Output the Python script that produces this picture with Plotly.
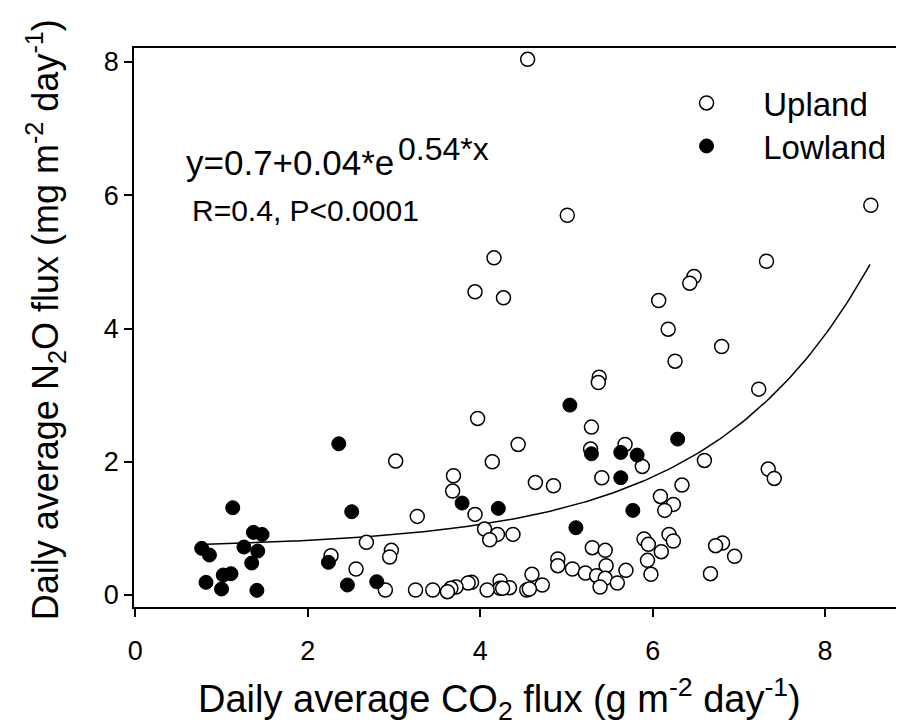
import numpy as np
import plotly.graph_objects as go

# ---- data ----
upland_x = [4.55, 8.53, 5.01, 4.16, 7.32, 6.48, 6.43, 3.94, 4.27, 6.07,
            6.18, 6.80, 6.26, 5.38, 5.37, 7.23, 3.97, 5.29, 4.44, 5.68,
            5.28, 3.02, 4.14, 6.60, 5.88, 7.34, 3.69, 5.41, 7.41, 4.64,
            4.85, 6.34, 3.68, 6.09, 6.24, 6.14, 3.94, 3.27, 4.05, 4.20,
            4.38, 4.11, 5.90, 6.19, 6.24, 5.95, 6.81, 6.73, 2.68, 5.30,
            5.45, 2.97, 6.10, 2.27, 2.95, 6.95, 4.90, 5.94, 4.90, 5.46,
            2.56, 5.07, 5.69, 5.22, 6.67, 5.98, 4.60, 5.35, 5.45, 4.23,
            3.90, 3.86, 5.59, 4.72, 3.72, 5.39, 4.34, 4.23, 4.26, 3.66,
            2.90, 3.25, 3.45, 4.08, 4.54, 4.57, 3.62]
upland_y = [8.04, 5.85, 5.70, 5.06, 5.01, 4.78, 4.68, 4.55, 4.46, 4.42,
            3.99, 3.73, 3.51, 3.27, 3.19, 3.09, 2.65, 2.52, 2.26, 2.26,
            2.19, 2.01, 2.00, 2.02, 1.93, 1.89, 1.79, 1.76, 1.75, 1.69,
            1.64, 1.65, 1.56, 1.48, 1.36, 1.27, 1.21, 1.18, 0.99, 0.91,
            0.91, 0.83, 0.84, 0.91, 0.81, 0.76, 0.78, 0.74, 0.79, 0.71,
            0.67, 0.67, 0.65, 0.59, 0.57, 0.58, 0.54, 0.52, 0.44, 0.44,
            0.39, 0.39, 0.37, 0.33, 0.32, 0.31, 0.31, 0.29, 0.25, 0.21,
            0.19, 0.18, 0.18, 0.15, 0.12, 0.12, 0.11, 0.10, 0.10, 0.10,
            0.075, 0.075, 0.075, 0.075, 0.075, 0.09, 0.05]

lowland_x = [2.36, 1.13, 2.51, 1.37, 1.47, 0.77, 0.86, 1.26, 1.42, 1.35,
             1.02, 1.11, 0.82, 1.00, 1.41, 2.24, 2.46, 2.80, 5.04, 5.29,
             5.63, 5.82, 6.29, 5.63, 3.79, 4.21, 5.77, 5.11]
lowland_y = [2.27, 1.31, 1.25, 0.94, 0.91, 0.70, 0.60, 0.72, 0.66, 0.48,
             0.30, 0.32, 0.19, 0.09, 0.07, 0.49, 0.15, 0.20, 2.85, 2.12,
             2.14, 2.10, 2.34, 1.76, 1.38, 1.30, 1.27, 1.01]

# fitted curve y = a + b*exp(c*x)
fit_a, fit_b, fit_c = 0.7, 0.04, 0.548
fit_x_min, fit_x_max = 0.83, 8.52

x_ticks = [0, 2, 4, 6, 8]
y_ticks = [0, 2, 4, 6, 8]

FONT = "Liberation Sans, Arial, sans-serif"

fit_x = np.linspace(fit_x_min, fit_x_max, 200)
fit_y = fit_a + fit_b * np.exp(fit_c * fit_x)

NB = "\u00a0" * 4

fig = go.Figure()
fig.add_trace(go.Scatter(
    x=fit_x, y=fit_y, mode="lines", line=dict(color="black", width=1.5),
    showlegend=False, hoverinfo="skip"))
fig.add_trace(go.Scatter(
    x=upland_x, y=upland_y, mode="markers", name=NB + "Upland", legend="legend",
    marker=dict(symbol="circle", size=14, color="white",
                line=dict(color="black", width=1.5))))
fig.add_trace(go.Scatter(
    x=lowland_x, y=lowland_y, mode="markers", name=NB + "Lowland", legend="legend2",
    marker=dict(symbol="circle", size=14, color="black",
                line=dict(color="black", width=1))))

# the page body has an 8px margin; compensate so the plot area sits where the reference has it
OFF = 8
W, H = 904 - OFF, 727 - OFF
L, R, T, B = 134 - OFF, 1, 48 - OFF, 120
pw, ph = W - L - R, H - T - B
PLOT_LEFT, PLOT_BOTTOM = OFF + L, OFF + H - B


def px(xabs):
    return (xabs - PLOT_LEFT) / pw


def py(yabs):
    return (PLOT_BOTTOM - yabs) / ph


axis_common = dict(showline=True, linecolor="black", linewidth=1.5, mirror=True,
                   ticks="outside", ticklen=8, tickwidth=1.5, tickcolor="black",
                   showgrid=False, zeroline=False,
                   tickfont=dict(family=FONT, size=27, color="black"))

legend_common = dict(xanchor="left", yanchor="top", bgcolor="rgba(0,0,0,0)",
                     font=dict(family=FONT, size=33, color="black"))

fig.update_layout(
    width=W, height=H,
    margin=dict(l=L, r=R, t=T, b=B),
    paper_bgcolor="white", plot_bgcolor="white",
    font=dict(family=FONT, color="black"),
    xaxis=dict(range=[-0.015, 8.88], tickvals=x_ticks, ticklabelstandoff=11, **axis_common),
    yaxis=dict(range=[-0.18, 8.21], tickvals=y_ticks, **axis_common),
    legend=dict(x=px(688), y=py(75), **legend_common),
    legend2=dict(x=px(688), y=py(118), **legend_common),
    annotations=[
        dict(text="y=0.7+0.04*e", x=px(184), y=py(184), xref="paper", yref="paper",
             xanchor="left", yanchor="bottom", showarrow=False,
             font=dict(family=FONT, size=35, color="black")),
        dict(text="0.54*x", x=px(397), y=py(169), xref="paper", yref="paper",
             xanchor="left", yanchor="bottom", showarrow=False,
             font=dict(family=FONT, size=32, color="black")),
        dict(text="R=0.4, P<0.0001", x=px(190), y=py(210), xref="paper", yref="paper",
             xanchor="left", yanchor="middle", showarrow=False,
             font=dict(family=FONT, size=30, color="black")),
        dict(text="Daily average CO<sub>2</sub> flux (g m<sup>-2</sup> day<sup>-1</sup>)",
             x=px(500), y=py(699), xref="paper", yref="paper",
             xanchor="center", yanchor="middle", showarrow=False,
             font=dict(family=FONT, size=38, color="black")),
        dict(text="Daily average N<sub>2</sub>O flux (mg m<sup>-2</sup> day<sup>-1</sup>)",
             x=px(45), y=py(320), xref="paper", yref="paper", textangle=-90,
             xanchor="center", yanchor="middle", showarrow=False,
             font=dict(family=FONT, size=36, color="black")),
    ],
)

fig.write_html("out.html")
